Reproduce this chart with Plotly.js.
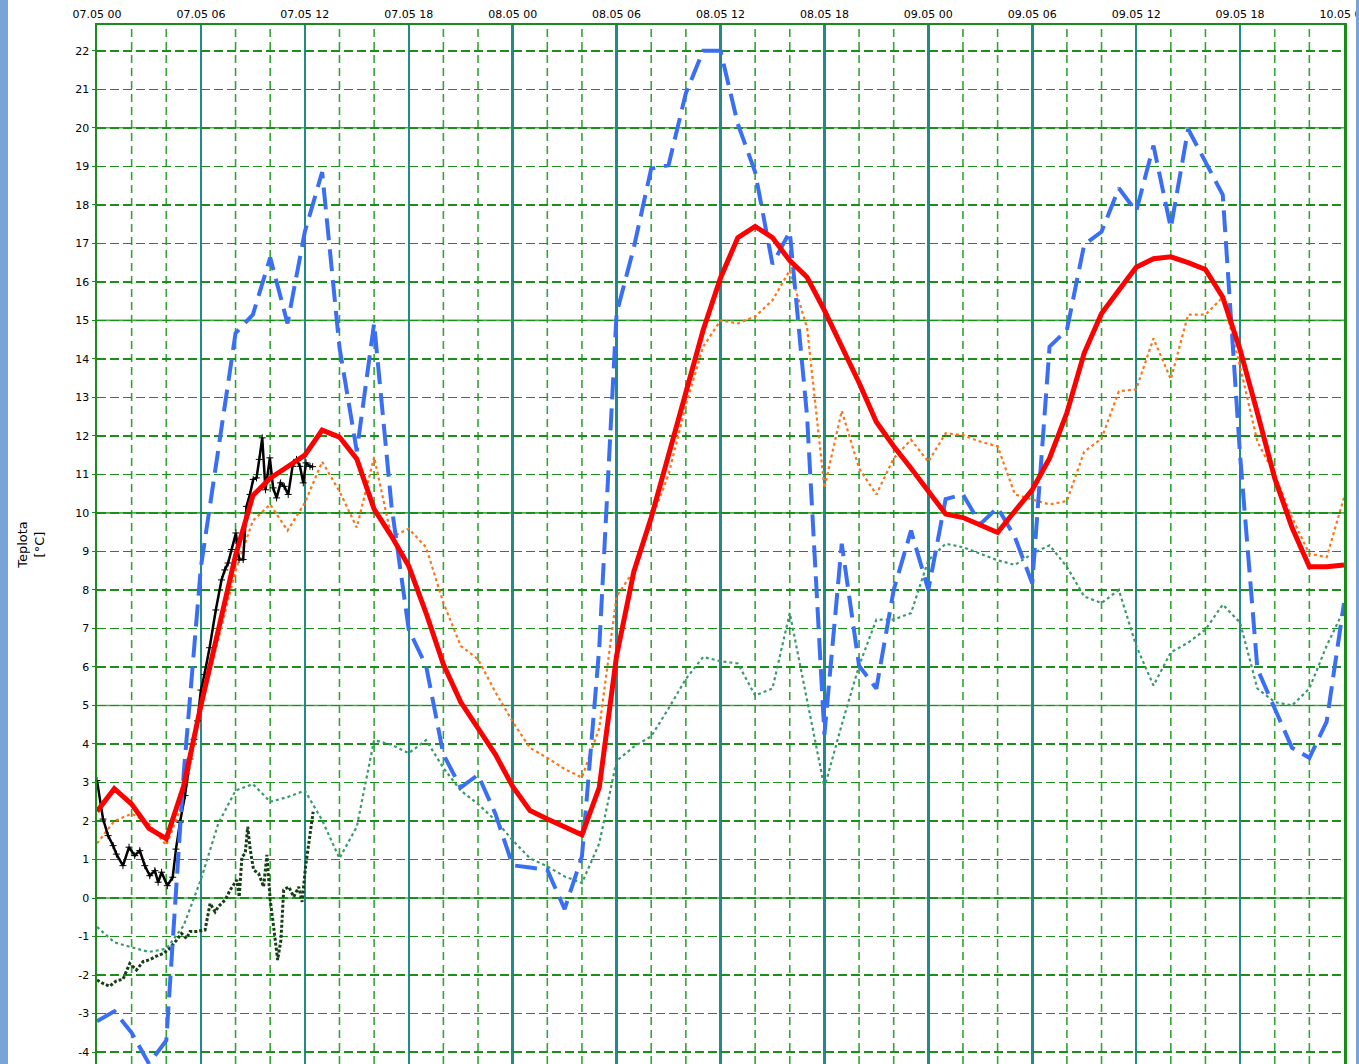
<!DOCTYPE html>
<html>
<head>
<meta charset="utf-8">
<script src="https://cdn.plot.ly/plotly-3.0.1.min.js"></script>
<style>
  html, body { margin: 0; padding: 0; background: #ffffff; }
  #wrap { position: relative; width: 1359px; height: 1064px; overflow: hidden; }
  #chart { position: absolute; left: 0; top: 0; width: 1359px; height: 1064px; }
  .strip { position: absolute; top: 0; height: 1064px; background: #78a4d8; }
</style>
</head>
<body>
<div id="wrap">
  <div id="chart"></div>
  <div class="strip" style="left:0;width:8px;"></div>
  <div class="strip" style="left:1356px;width:3px;"></div>
</div>
<script>
// Hours since 07.05 00
const hours = Array.from({length: 73}, (_, i) => i);

// Forecast temperature (red, thick solid)
const tempRed = [2.25, 2.84, 2.44, 1.81, 1.54, 2.9, 5.0, 7.0, 8.9, 10.45,
  10.9, 11.2, 11.5, 12.15, 11.97, 11.4, 10.1, 9.4, 8.62, 7.4,
  6.07, 5.09, 4.41, 3.73, 2.9, 2.27, 2.05, 1.85, 1.64, 2.87,
  6.29, 8.48, 9.88, 11.5, 13.1, 14.75, 16.1, 17.15, 17.44, 17.15,
  16.55, 16.12, 15.26, 14.32, 13.38, 12.36, 11.73, 11.16, 10.56, 9.97,
  9.88, 9.68, 9.49, 10.05, 10.6, 11.42, 12.6, 14.15, 15.18, 15.78,
  16.38, 16.6, 16.65, 16.5, 16.32, 15.6, 14.24, 12.6, 10.9, 9.62,
  8.6, 8.6, 8.65];

// Surface temperature (blue, long dashes)
const tempBlue = [-3.2, -2.94, -3.5, -4.3, -3.7, 3.2, 8.6, 11.6, 14.67, 15.15,
  16.63, 14.92, 17.3, 18.85, 14.3, 11.6, 14.92, 10.2, 6.97, 6.03,
  3.73, 2.87, 3.2, 2.19, 0.85, 0.79, 0.73, -0.29, 1.08, 6.5,
  15.18, 16.9, 18.94, 19.03, 20.9, 22.0, 22.0, 20.1, 18.85, 16.46,
  17.3, 12.5, 4.24, 9.2, 6.03, 5.44, 8.0, 9.54, 8.0, 10.36,
  10.48, 9.71, 10.14, 9.37, 8.17, 14.32, 14.75, 16.97, 17.3, 18.43,
  17.83, 19.54, 17.4, 19.97, 19.11, 18.26, 11.5, 5.95, 4.92, 3.9,
  3.64, 4.58, 7.66];

// Second model temperature (orange, dotted)
const tempOrange = [1.42, 2.0, 2.19, 1.93, 1.37, 2.53, 4.92, 6.72, 8.5, 9.8,
  10.22, 9.54, 10.26, 11.33, 10.56, 9.62, 11.45, 9.37, 9.59, 9.11,
  7.66, 6.55, 6.2, 5.35, 4.58, 3.9, 3.64, 3.35, 3.13, 4.41,
  7.83, 8.5, 9.8, 11.0, 12.8, 14.32, 15.0, 14.92, 15.1, 15.52,
  16.3, 14.8, 10.65, 12.65, 11.16, 10.48, 11.42, 11.9, 11.33, 12.07,
  12.02, 11.85, 11.73, 10.48, 10.36, 10.22, 10.31, 11.59, 11.93, 13.16,
  13.21, 14.53, 13.47, 15.15, 15.15, 15.6, 13.8, 11.85, 11.0, 9.88,
  8.94, 8.85, 10.4];

// Forecast dew point (green, dotted)
const dewGreen = [-0.75, -1.15, -1.28, -1.4, -1.32, -0.72, 0.48, 1.93, 2.79, 2.96,
  2.5, 2.62, 2.79, 2.02, 1.03, 1.85, 4.1, 3.98, 3.76, 4.1,
  3.38, 2.79, 2.44, 2.02, 1.5, 1.03, 0.82, 0.56, 0.39, 1.42,
  3.56, 3.93, 4.2, 4.92, 5.69, 6.26, 6.15, 6.09, 5.26, 5.44,
  7.4, 5.18, 2.87, 4.5, 6.03, 7.23, 7.23, 7.4, 8.77, 9.2,
  9.11, 8.94, 8.77, 8.65, 8.94, 9.16, 8.6, 7.83, 7.66, 8.0,
  6.55, 5.52, 6.38, 6.63, 6.97, 7.62, 7.15, 5.44, 5.09, 5.0,
  5.44, 6.55, 7.49];

// Observed temperature (black)
const obsTempHours = [0, 0.35, 0.64, 0.93, 1.12, 1.5, 1.85, 2.18, 2.47, 2.76,
  3.05, 3.34, 3.53, 3.73, 4.06, 4.37, 4.56, 4.79, 5.08, 5.37,
  5.6, 5.8, 6.0, 6.2, 6.5, 6.86, 7.19, 7.38, 7.57, 7.77,
  8.02, 8.2, 8.44, 8.63, 8.83, 9.02, 9.21, 9.37, 9.54, 9.73,
  9.98, 10.17, 10.37, 10.6, 10.81, 11.04, 11.29, 11.52, 11.72, 11.91,
  12.07, 12.3, 12.45];
const obsTemp = [3.05, 2.05, 1.62, 1.36, 1.14, 0.84, 1.32, 1.1, 1.23, 0.84,
  0.58, 0.71, 0.41, 0.67, 0.32, 0.54, 1.27, 1.96, 2.66, 3.61,
  4.12, 4.6, 5.4, 5.8, 6.5, 7.48, 8.26, 8.52, 8.7, 9.05,
  9.48, 8.79, 8.79, 10.17, 10.48, 10.87, 10.91, 11.39, 11.95, 10.6,
  11.43, 10.65, 10.39, 10.78, 10.69, 10.48, 11.21, 11.39, 11.21, 10.78,
  11.3, 11.21, 11.2];

// Observed dew point (dark green, dotted)
const obsDewHours = [0, 0.35, 0.73, 1.12, 1.5, 1.89, 2.28, 2.66, 3.05, 3.43,
  3.82, 4.2, 4.6, 4.88, 5.17, 5.37, 5.76, 6.24, 6.53, 6.82,
  7.01, 7.4, 7.69, 8.08, 8.21, 8.37, 8.56, 8.7, 8.85, 9.04,
  9.33, 9.62, 9.81, 10.0, 10.2, 10.43, 10.62, 10.78, 11.07, 11.36,
  11.65, 11.84, 12.04, 12.17, 12.33, 12.48];
const obsDew = [-2.13, -2.22, -2.29, -2.15, -2.11, -1.7, -1.87, -1.65, -1.6, -1.51,
  -1.44, -1.31, -1.09, -0.92, -1.05, -0.87, -0.87, -0.83, -0.14, -0.36,
  -0.22, -0.05, 0.21, 0.47, 0.03, 1.07, 1.16, 1.85, 1.25, 0.73,
  0.64, 0.29, 1.12, -0.05, -0.75, -1.61, -1.09, 0.21, 0.29, 0.03,
  0.29, -0.1, 0.81, 1.25, 1.77, 2.24];

// Tick labels
const xTickHours = [0, 6, 12, 18, 24, 30, 36, 42, 48, 54, 60, 66, 72];
const xTickLabels = ['07.05 00', '07.05 06', '07.05 12', '07.05 18',
  '08.05 00', '08.05 06', '08.05 12', '08.05 18',
  '09.05 00', '09.05 06', '09.05 12', '09.05 18', '10.05 00'];
const yTickValues = Array.from({length: 27}, (_, i) => 22 - i);
const yTickLabels = yTickValues.map(v => String(v));
const ySolidLines = [0, 5, 10, 15, 20];
const xDashedHours = hours.filter(h => h % 2 === 0 && h % 6 !== 0);

const traces = [
  {x: hours, y: dewGreen, mode: 'lines', line: {color: '#3b9a6a', width: 2.2, dash: '3px,3px'}},
  {x: hours, y: tempOrange, mode: 'lines', line: {color: '#ff7418', width: 2.2, dash: '3px,3px'}},
  {x: obsDewHours, y: obsDew, mode: 'lines', line: {color: '#133f13', width: 3, dash: '3px,2px'}},
  {x: obsTempHours, y: obsTemp, mode: 'lines+markers', line: {color: '#000000', width: 2.5},
    marker: {symbol: 'cross-thin', size: 5, line: {color: '#000000', width: 1}}},
  {x: hours, y: tempBlue, mode: 'lines', line: {color: '#3a6ff5', width: 4, dash: '22px,9px'}},
  {x: hours, y: tempRed, mode: 'lines', line: {color: '#ff0000', width: 5}}
];

const shapes = [];
xDashedHours.forEach(h => shapes.push({
  type: 'line', xref: 'x', yref: 'paper', x0: h, x1: h, y0: 0, y1: 1,
  line: {color: '#34a434', width: 1.6, dash: '8px,5px'}, layer: 'below'
}));
ySolidLines.forEach(v => shapes.push({
  type: 'line', xref: 'paper', yref: 'y', x0: 0, x1: 1, y0: v, y1: v,
  line: {color: '#4daa4d', width: 1.6}, layer: 'between'
}));

const layout = {
  width: 1359, height: 1064,
  margin: {l: 97, r: 15, t: 25, b: 0},
  paper_bgcolor: '#ffffff', plot_bgcolor: 'rgba(0,0,0,0)',
  showlegend: false,
  font: {family: 'DejaVu Sans, sans-serif', color: '#000000'},
  xaxis: {
    range: [0, 72], side: 'top',
    tickmode: 'array', tickvals: xTickHours, ticktext: xTickLabels,
    tickfont: {size: 11, family: 'DejaVu Sans, sans-serif'},
    ticklabeloverflow: 'allow',
    ticks: '', showgrid: true, gridcolor: '#238a8a', gridwidth: 2.5,
    showline: true, linecolor: '#1a8c1a', linewidth: 2.5, mirror: false,
    zeroline: false, fixedrange: true
  },
  yaxis: {
    range: [-4.31, 22.67],
    tickmode: 'array', tickvals: yTickValues, ticktext: yTickLabels,
    tickfont: {size: 11, family: 'DejaVu Sans, sans-serif'},
    ticks: 'outside', ticklen: 3, tickcolor: '#1a8c1a',
    showgrid: true, gridcolor: '#1a8f1a', gridwidth: 1.6, griddash: '9px,4px',
    showline: true, linecolor: '#1a8c1a', linewidth: 2.5, mirror: true,
    zeroline: false, fixedrange: true,
    title: {text: 'Teplota<br>[°C]', font: {size: 13, family: 'DejaVu Sans, sans-serif'}, standoff: 28}
  },
  shapes: shapes
};

Plotly.newPlot('chart', traces, layout, {displayModeBar: false, staticPlot: true});
</script>
</body>
</html>
